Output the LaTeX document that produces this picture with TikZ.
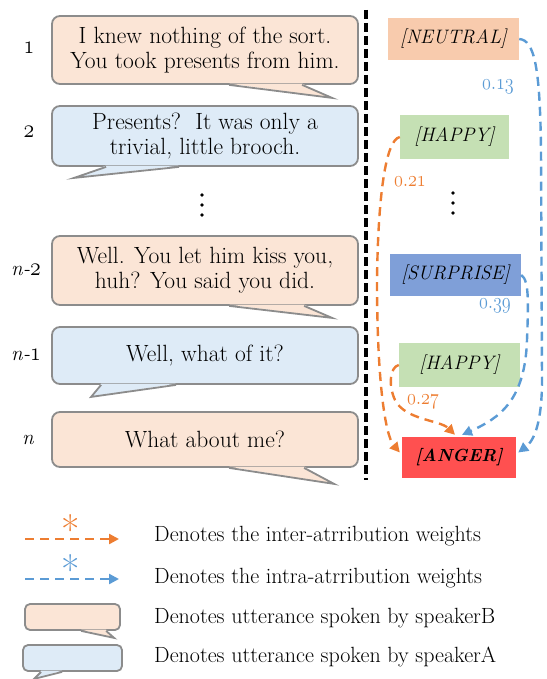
\documentclass[tikz,border=0pt]{standalone}
\usetikzlibrary{arrows.meta,calc}
\definecolor{peach}{HTML}{FBE5D6}
\definecolor{lblue}{HTML}{DEEBF7}
\definecolor{bord}{HTML}{8C8C8C}
\definecolor{oran}{HTML}{ED7D31}
\definecolor{blu}{HTML}{5B9BD5}
\definecolor{neu}{HTML}{F8CBAD}
\definecolor{hap}{HTML}{C5E0B4}
\definecolor{sur}{HTML}{7F9FD8}
\definecolor{ang}{HTML}{FF5050}
\newcommand{\bubtail}[6]{%
  \fill[#6] ($(#1.south west)+(#2,-1.3)$) -- ($(#1.south west)+(#3,#4)$) -- ($(#1.south west)+(#5,-1.3)$) -- cycle;
  \draw[draw=bord, line width=1.8pt, line join=miter] ($(#1.south west)+(#2,0)$) -- ($(#1.south west)+(#3,#4)$) -- ($(#1.south west)+(#5,0)$);
}
\newcommand{\osf}[1]{\scalebox{1.05}[1.3]{\ensuremath{\mathnormal{#1}}}}
\newcommand{\osi}[1]{\scalebox{1.05}[1.25]{\ensuremath{\mathnormal{#1}}}}
\tikzset{
  bub/.style={draw=bord, line width=1.8pt, rounded corners=8pt, minimum width=306pt, align=center, inner sep=0pt, font=\fontsize{23.5}{25}\selectfont},
  bubB/.style={bub, fill=peach},
  bubA/.style={bub, fill=lblue},
  lbub/.style={draw=bord, line width=1.8pt, rounded corners=5pt, minimum height=26pt, inner sep=0pt},
  emo/.style={inner sep=0pt, font=\fontsize{19.5}{22}\selectfont\itshape},
  idx/.style={font=\fontsize{21}{22}\selectfont\itshape},
  wt/.style={font=\fontsize{19}{20}\selectfont},
  inter/.style={oran, line width=2.4pt, dash pattern=on 9pt off 6pt, -{Triangle[length=10pt,width=10pt]}},
  intra/.style={blu, line width=2.4pt, dash pattern=on 9pt off 6pt, -{Triangle[length=10pt,width=10pt]}},
  sep/.style={black, line width=3.6pt, dash pattern=on 9pt off 4pt},
  legt/.style={anchor=west, inner sep=0pt, font=\fontsize{22}{24}\selectfont},
  star/.style={anchor=base, inner sep=0pt, font=\fontsize{40}{40}\selectfont},
  dot/.style={circle, fill=black, inner sep=0pt, minimum size=3.6pt},
}
\begin{document}
\begin{tikzpicture}[x=1pt,y=-1pt]
\useasboundingbox (0,0) rectangle (546,679);

% utterance bubbles
\node[bubB, minimum height=68pt] (u1) at (205,50) {I knew nothing of the sort.\\You took presents from him.};
\node[bubA, minimum height=60pt] (u2) at (205,136) {Presents?\ \ It was only a\\trivial, little brooch.};
\node[bubB, minimum height=69pt] (u3) at (205,270.5) {Well. You let him kiss you,\\huh? You said you did.};
\node[bubA, minimum height=57pt] (u4) at (205,355.5) {Well, what of it?};
\node[bubB, minimum height=55pt] (u5) at (205,439.5) {What about me?};
\bubtail{u1}{178}{281}{13}{251}{peach}
\bubtail{u2}{55}{23}{11}{128}{lblue}
\bubtail{u3}{178}{281}{12}{253}{peach}
\bubtail{u4}{50}{40}{12}{125}{lblue}
\bubtail{u5}{178}{283}{16}{253}{peach}

% indices
\node[idx] (i1) at (29,48) {\osi{1}};
\node[idx] (i2) at (29,132) {\osi{2}};
\node[idx] (i3) at (26,270) {n-\osi{2}};
\node[idx] (i4) at (26,355) {n-\osi{1}};
\node[idx] (i5) at (28,440) {n};

% left dots
\node[dot] (ld1) at (202,195) {};
\node[dot] (ld2) at (202,205) {};
\node[dot] (ld3) at (202,215) {};

% separator
\coordinate (st) at (366,10);
\coordinate (sb) at (366,480);
\draw[sep] (st) -- (sb);

% emotion boxes
\node[emo, fill=neu, minimum width=131pt, minimum height=42pt] (neu) at (453.5,39) {[NEUTRAL]};
\node[emo, fill=hap, minimum width=109pt, minimum height=44pt] (hap1) at (454.5,137) {[HAPPY]};
\node[emo, fill=sur, minimum width=131pt, minimum height=42pt] (sur) at (455.5,275) {[SURPRISE]};
\node[emo, fill=hap, minimum width=121pt, minimum height=44pt] (hap2) at (459.5,365) {[HAPPY]};
\node[emo, fill=ang, minimum width=114pt, minimum height=41pt, font=\fontsize{17.5}{22}\selectfont\bfseries\itshape] (ang) at (459,457.5) {[ANGER]};

% right dots
\node[dot] (rd1) at (453,193) {};
\node[dot] (rd2) at (453,203) {};
\node[dot] (rd3) at (453,213) {};

% attribution arrows
\draw[intra] (neu.east) .. controls (535,40) and (540,70) .. (541,150) -- (542,380) .. controls (542,420) and (535,440) .. ($(ang.east)+(2,-5)$);
\draw[intra] (sur.east) .. controls (530,280) and (528,310) .. (527,340) .. controls (525,400) and (500,418) .. ($(ang.north)+(3,-2)$);
\draw[inter] (hap1.west) .. controls (385,140) and (378,200) .. (377,280) .. controls (377,380) and (385,435) .. ($(ang.west)+(-2,-5)$);
\draw[inter] (hap2.west) .. controls (390,367) and (388,385) .. (395,400) .. controls (405,420) and (440,420) .. ($(ang.north)+(-4,-2)$);

% weights
\node[wt, text=blu] (w1) at (498,87) {\osf{0.13}};
\node[wt, text=oran] (w2) at (410,182) {\osf{0.21}};
\node[wt, text=blu] (w3) at (495,306) {\osf{0.39}};
\node[wt, text=oran] (w4) at (423,402) {\osf{0.27}};

% legend
\coordinate (l1s) at (25,539);
\coordinate (l1e) at (119,539);
\draw[inter] (l1s) -- (l1e);
\node[star, text=oran] (s1) at (71,544) {*};
\coordinate (l2s) at (25,579);
\coordinate (l2e) at (119,579);
\draw[intra] (l2s) -- (l2e);
\node[star, text=blu] (s2) at (71,584) {*};
\node[lbub, fill=peach, minimum width=95pt] (lb) at (72.5,617) {};
\node[lbub, fill=lblue, minimum width=99pt] (la) at (72.5,658) {};
\bubtail{lb}{57}{90}{7}{82}{peach}
\bubtail{la}{19}{12}{7}{40}{lblue}
\node[legt] (t1) at (154,536) {Denotes the inter-atrribution weights};
\node[legt] (t2) at (154,578) {Denotes the intra-atrribution weights};
\node[legt] (t3) at (154,618) {Denotes utterance spoken by speakerB};
\node[legt] (t4) at (154,657) {Denotes utterance spoken by speakerA};
\end{tikzpicture}
\end{document}
